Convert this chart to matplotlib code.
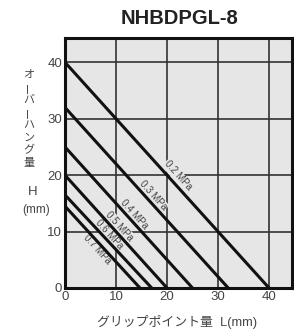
import matplotlib
matplotlib.use("Agg")
import matplotlib.pyplot as plt

plt.rcParams['font.family'] = ['Liberation Sans', 'Noto Sans CJK JP', 'DejaVu Sans']

# pressure lines: H intercept, L intercept
pressures = ["0.2 MPa", "0.3 MPa", "0.4 MPa", "0.5 MPa", "0.6 MPa", "0.7 MPa"]
h_max = [40, 32, 25, 20, 16.5, 14.5]
l_max = [40, 32, 25, 20, 17, 14.7]
# label centres (L, H)
lab_x = [22.1, 17.2, 13.5, 10.6, 8.6, 6.3]
lab_y = [19.9, 16.4, 13.1, 11.0, 9.5, 6.8]

xticks = [0, 10, 20, 30, 40]
yticks = [0, 10, 20, 30, 40]

fig = plt.figure(figsize=(2.94, 3.34), dpi=100)
ax = fig.add_axes([65/294, 1-288/334, (292-65)/294, (288-37.5)/334])
ax.set_facecolor('#e6e6e6')
ax.set_xlim(0, 44.5)
ax.set_ylim(0, 44.4)

for t in xticks[1:]:
    ax.axvline(t, color='#333333', lw=1.2, zorder=1)
for t in yticks[1:]:
    ax.axhline(t, color='#333333', lw=1.2, zorder=1)

for name, h, l, tx, ty in zip(pressures, h_max, l_max, lab_x, lab_y):
    ax.plot([0, l], [h, 0], color='#111111', lw=2.2, solid_capstyle='butt', zorder=3)
    ax.text(tx, ty, name, rotation=-48, rotation_mode='anchor', ha='center', va='center',
            fontsize=7, color='#444444', zorder=2,
            bbox=dict(facecolor='#e6e6e6', edgecolor='none', pad=0.5))

ax.set_xticks(xticks)
ax.set_yticks(yticks)
ax.set_xticklabels([str(t) for t in xticks])
ax.set_yticklabels([str(t) for t in yticks])
ax.tick_params(length=0, labelsize=9.5, colors='#444444', pad=2)
for s in ax.spines.values():
    s.set_linewidth(2.2)
    s.set_color('#111111')

fig.text(180/294, 1-18/334, "NHBDPGL-8", ha='center', va='center', fontsize=14.5,
         fontweight='bold', color='#222222')

# vertical y label
ylab = "オーバーハング量"
y0 = 75
for i, ch in enumerate(ylab):
    rot = 90 if ch == "ー" else 0
    fig.text(29/294, 1-(y0 + i*12.6)/334, ch, ha='center', va='center', fontsize=8,
             rotation=rot, color='#444444')
fig.text(33/294, 1-192/334, "H", ha='center', va='center', fontsize=9.5, color='#444444')
fig.text(36/294, 1-210/334, "(mm)", ha='center', va='center', fontsize=8.5, color='#444444')

fig.text(177/294, 1-322/334, "グリップポイント量  L(mm)", ha='center', va='center',
         fontsize=9.3, color='#444444')

fig.savefig("out.png", dpi=100)
